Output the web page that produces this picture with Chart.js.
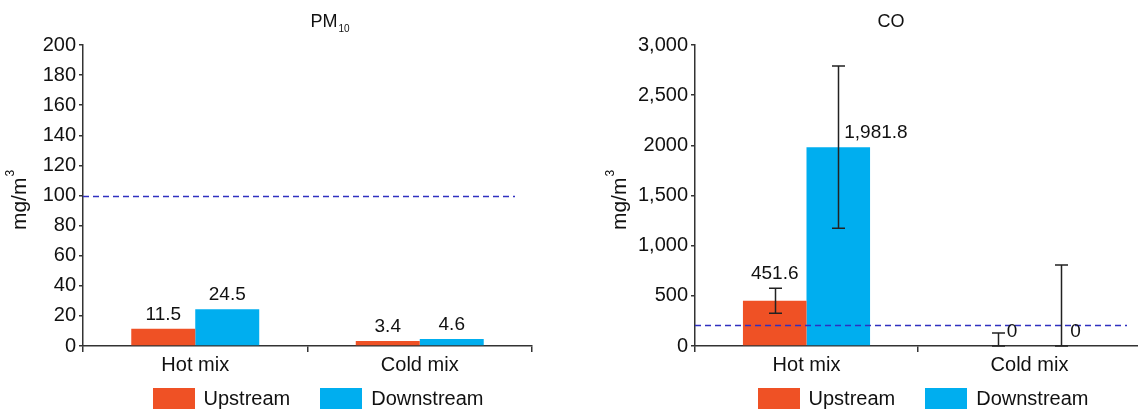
<!DOCTYPE html>
<html>
<head>
<meta charset="utf-8">
<title>PM10 and CO</title>
<script src="https://cdn.jsdelivr.net/npm/chart.js"></script>
<style>
  html, body { margin: 0; padding: 0; background: #fff; overflow: hidden; }
  body { width: 1138px; height: 411px; position: relative; }
  .panel { position: absolute; top: 0; height: 411px; }
  .legend {
    position: absolute; left: 0; right: 0; top: 387px;
    display: flex; justify-content: center;
    font: 20px 'Liberation Sans', Arial, sans-serif;
    color: #111; line-height: 23px;
  }
  .item { display: flex; align-items: center; margin: 0 15px; }
  .box { width: 42px; height: 21px; margin-right: 9px; }
</style>
</head>
<body>
  <div class="panel" id="pm-panel" style="left:0;width:636px">
    <canvas id="pm-chart" width="636" height="411"></canvas>
    <div class="legend" id="pm-legend"></div>
  </div>
  <div class="panel" id="co-panel" style="left:600px;width:646px">
    <canvas id="co-chart" width="646" height="411"></canvas>
    <div class="legend" id="co-legend"></div>
  </div>

<script>
  const categories = ['Hot mix', 'Cold mix']
  const seriesNames = ['Upstream', 'Downstream']
  const seriesColors = ['#ef5125', '#00aeef']

  // PM10
  const pmUpstream = [11.5, 3.4]
  const pmDownstream = [24.5, 4.6]
  const pmUpstreamText = ['11.5', '3.4']
  const pmDownstreamText = ['24.5', '4.6']
  const pmTicks = ['0', '20', '40', '60', '80', '100', '120', '140', '160', '180', '200']
  const pmLimit = 100

  // CO
  const coUpstream = [451.6, 0]
  const coDownstream = [1981.8, 0]
  const coUpstreamErr = [125, 130]
  const coDownstreamErr = [809, 807]
  const coUpstreamText = ['451.6', '0']
  const coDownstreamText = ['1,981.8', '0']
  const coTicks = ['0', '500', '1,000', '1,500', '2000', '2,500', '3,000']
  const coLimit = 210

  const FONT = "'Liberation Sans', Arial, sans-serif"
  const INK = '#111'
  const AXIS = '#333'

  // titles, y title with superscript, dashed limit line, error bars, value labels
  const extras = {
    id: 'extras',
    afterDatasetsDraw(chart, args, opts) {
      const ctx = chart.ctx
      const area = chart.chartArea
      const y = chart.scales.y

      // dashed limit line
      ctx.save()
      ctx.strokeStyle = '#3030c0'
      ctx.lineWidth = 1.3
      ctx.setLineDash([6, 4])
      const ly = Math.round(y.getPixelForValue(opts.limit)) + 0.5
      ctx.beginPath()
      ctx.moveTo(area.left, ly)
      ctx.lineTo(area.right - opts.limitShort, ly)
      ctx.stroke()
      ctx.restore()

      // error bars
      ctx.save()
      ctx.strokeStyle = '#222'
      ctx.lineWidth = 1.5
      chart.data.datasets.forEach((ds, di) => {
        if (!ds.errors) return
        chart.getDatasetMeta(di).data.forEach((bar, i) => {
          const v = ds.data[i]
          const e = ds.errors[i]
          const x = Math.round(bar.x) + 0.5
          const top = y.getPixelForValue(v + e)
          const bot = y.getPixelForValue(Math.max(v - e, 0))
          ctx.beginPath()
          ctx.moveTo(x, top); ctx.lineTo(x, bot)
          ctx.moveTo(x - 6.5, top); ctx.lineTo(x + 6.5, top)
          ctx.moveTo(x - 6.5, bot); ctx.lineTo(x + 6.5, bot)
          ctx.stroke()
        })
      })
      ctx.restore()

      // value labels
      ctx.save()
      ctx.fillStyle = INK
      ctx.font = '19px ' + FONT
      ctx.textBaseline = 'middle'
      chart.data.datasets.forEach((ds, di) => {
        chart.getDatasetMeta(di).data.forEach((bar, i) => {
          const pos = ds.labelPos ? ds.labelPos[i] : 'top'
          const v = ds.data[i]
          const e = ds.errors ? ds.errors[i] : 0
          if (pos === 'top') {
            ctx.textAlign = 'center'
            ctx.fillText(ds.valueText[i], bar.x, y.getPixelForValue(v + e) - 14)
          } else {
            ctx.textAlign = 'left'
            ctx.fillText(ds.valueText[i], bar.x + (v - e < 0 ? 9 : 6), y.getPixelForValue(v) - 14)
          }
        })
      })
      ctx.restore()

      // chart title with subscript
      ctx.save()
      ctx.fillStyle = INK
      ctx.textBaseline = 'middle'
      ctx.textAlign = 'left'
      ctx.font = '18px ' + FONT
      const w1 = ctx.measureText(opts.title).width
      ctx.font = '10px ' + FONT
      const w2 = opts.sub ? ctx.measureText(opts.sub).width + 1 : 0
      const tx = opts.titleX - (w1 + w2) / 2
      ctx.font = '18px ' + FONT
      ctx.fillText(opts.title, tx, 22)
      if (opts.sub) {
        ctx.font = '10px ' + FONT
        ctx.fillText(opts.sub, tx + w1 + 1, 29)
      }
      ctx.restore()

      // y axis title mg/m3
      ctx.save()
      ctx.fillStyle = INK
      ctx.translate(opts.yTitleX, (area.top + area.bottom) / 2 + 5)
      ctx.rotate(-Math.PI / 2)
      ctx.textBaseline = 'middle'
      ctx.textAlign = 'left'
      ctx.font = '21px ' + FONT
      const m1 = ctx.measureText('mg/m').width
      ctx.font = '12px ' + FONT
      const m2 = ctx.measureText('3').width
      const sx = -(m1 + m2) / 2
      ctx.font = '21px ' + FONT
      ctx.fillText('mg/m', sx, 0)
      ctx.font = '12px ' + FONT
      ctx.fillText('3', sx + m1 + 1, -9)
      ctx.restore()
    }
  }

  const makeChart = (canvasId, cfg) => {
    return new Chart(document.getElementById(canvasId), {
      type: 'bar',
      data: {
        labels: categories,
        datasets: [
          {
            label: seriesNames[0],
            data: cfg.up,
            errors: cfg.upErr,
            valueText: cfg.upText,
            labelPos: cfg.upPos,
            backgroundColor: seriesColors[0],
            barPercentage: 1,
            categoryPercentage: 0.57
          },
          {
            label: seriesNames[1],
            data: cfg.down,
            errors: cfg.downErr,
            valueText: cfg.downText,
            labelPos: cfg.downPos,
            backgroundColor: seriesColors[1],
            barPercentage: 1,
            categoryPercentage: 0.57
          }
        ]
      },
      options: {
        responsive: false,
        animation: false,
        devicePixelRatio: 1,
        layout: { padding: { top: 45, right: cfg.padRight, bottom: 31, left: 0 } },
        scales: {
          x: {
            afterFit: s => { s.height = 34 },
            grid: { drawOnChartArea: false, tickLength: 6, color: AXIS, lineWidth: 1.5 },
            border: { color: AXIS, width: 1.5 },
            ticks: { color: INK, font: { family: FONT, size: 20 }, padding: 1 }
          },
          y: {
            min: 0,
            max: cfg.max,
            afterFit: s => { s.width = cfg.axisWidth },
            afterBuildTicks: s => {
              s.ticks = cfg.ticks.map((t, i) => ({ value: i * cfg.step }))
            },
            grid: { drawOnChartArea: false, tickLength: 4, color: AXIS, lineWidth: 1.5 },
            border: { color: AXIS, width: 1.5 },
            ticks: {
              color: INK,
              font: { family: FONT, size: 20 },
              padding: 3,
              callback: (v, i) => cfg.ticks[i]
            }
          }
        },
        plugins: {
          legend: { display: false },
          tooltip: { enabled: false },
          extras: cfg.extras
        }
      },
      plugins: [extras]
    })
  }

  makeChart('pm-chart', {
    up: pmUpstream, down: pmDownstream,
    upText: pmUpstreamText, downText: pmDownstreamText,
    max: 200, step: 20, ticks: pmTicks,
    axisWidth: 83, padRight: 104,
    extras: { title: 'PM', sub: '10', titleX: 330, yTitleX: 20, limit: pmLimit, limitShort: 17 }
  })

  makeChart('co-chart', {
    up: coUpstream, down: coDownstream,
    upErr: coUpstreamErr, downErr: coDownstreamErr,
    upText: coUpstreamText, downText: coDownstreamText,
    upPos: ['top', 'right'], downPos: ['right', 'right'],
    max: 3000, step: 500, ticks: coTicks,
    axisWidth: 95, padRight: 105,
    extras: { title: 'CO', sub: '', titleX: 291, yTitleX: 20, limit: coLimit, limitShort: 14 }
  })

  // html legends
  const buildLegend = id => {
    const el = document.getElementById(id)
    seriesNames.forEach((name, i) => {
      const item = document.createElement('div')
      item.className = 'item'
      item.innerHTML = '<span class="box" style="background:' + seriesColors[i] + '"></span><span>' + name + '</span>'
      el.appendChild(item)
    })
  }
  buildLegend('pm-legend')
  buildLegend('co-legend')
</script>
</body>
</html>
